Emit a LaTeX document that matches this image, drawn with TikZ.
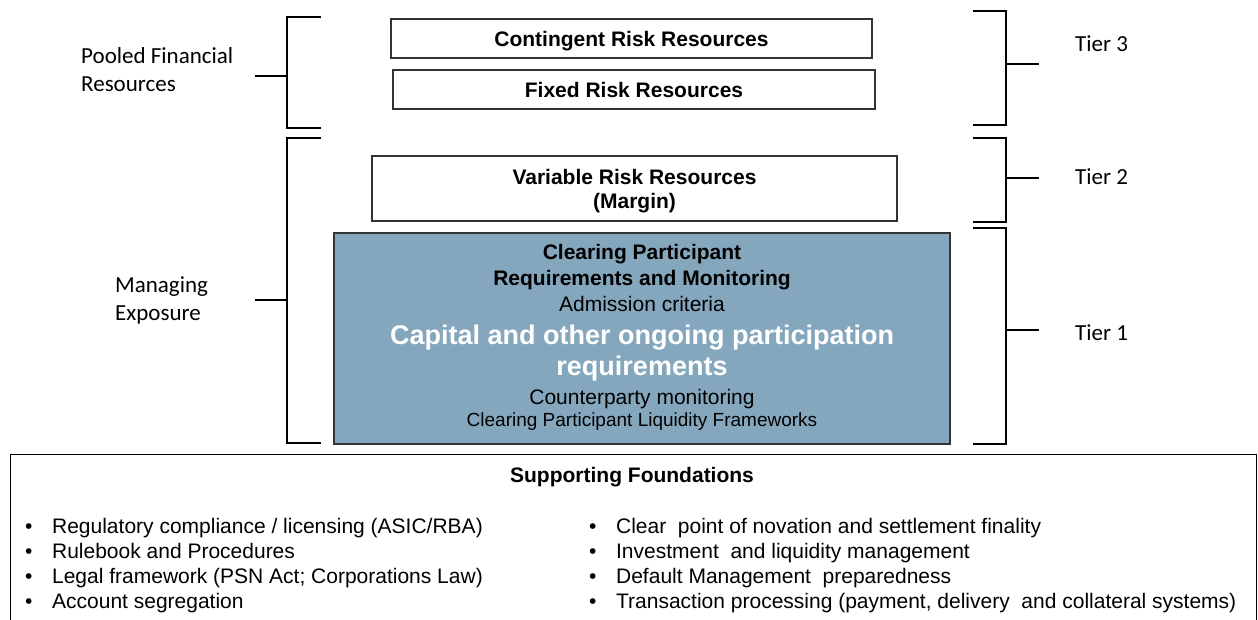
\documentclass[tikz,border=0pt]{standalone}
\usepackage{fontspec}
\setmainfont{Liberation Sans}
\newfontfamily\sidefont{Carlito}
\usetikzlibrary{positioning}
\definecolor{tierblue}{RGB}{132,167,189}

\begin{document}
\begin{tikzpicture}[
    x=1pt, y=-1pt,
    brace/.style={draw=black, line width=1.5pt},
    box/.style={draw=black!80, line width=1.3pt, align=center, inner sep=0pt},
    riskbox/.style={box, text depth=0pt, font=\bfseries\fontsize{21pt}{24pt}\selectfont},
    side/.style={font=\sidefont\fontsize{23pt}{28pt}\selectfont, align=left, inner sep=0pt},
    line/.style={anchor=base, inner sep=0pt},
    cpbold/.style={line, font=\bfseries\fontsize{21pt}{25pt}\selectfont},
    cptext/.style={line, font=\fontsize{21pt}{25pt}\selectfont},
    cpbig/.style={line, text=white, font=\bfseries\fontsize{27pt}{31pt}\selectfont},
    cpsmall/.style={line, font=\fontsize{19pt}{23pt}\selectfont},
    items/.style={anchor=base west, inner sep=0pt, font=\fontsize{21pt}{25pt}\selectfont}
]
\useasboundingbox (0,0) rectangle (1258,620);

% --- Tier 3: pooled resources ---
\node[riskbox, minimum width=481pt, minimum height=39pt] (cont) at (631.5,38.5) {Contingent Risk Resources};
\node[riskbox, minimum width=482pt, minimum height=39pt] (fixed) at (634,89.5) {Fixed Risk Resources};

% --- Tier 2: margin ---
\node[riskbox, minimum width=525pt, minimum height=65pt] (var) at (634.5,188.5) {Variable Risk Resources\\(Margin)};

% --- Tier 1: participant requirements ---
\node[box, fill=tierblue, minimum width=616pt, minimum height=211pt] (cp) at (642,338.5) {};
\node[cpbold] (cp1) at (642,260) {Clearing Participant};
\node[cpbold] (cp2) at (642,286) {Requirements and Monitoring};
\node[cptext] (cp3) at (642,312) {Admission criteria};
\node[cpbig] (cp4) at (642,344) {Capital and other ongoing participation};
\node[cpbig] (cp5) at (642,375) {requirements};
\node[cptext] (cp6) at (642,404) {Counterparty monitoring};
\node[cpsmall] (cp7) at (642,426) {Clearing Participant Liquidity Frameworks};

% --- Left brackets ---
\draw[brace] (321,17) -| (287,128) -- (321,128);
\draw[brace] (287,76) -- (255,76) coordinate (pooltip);
\draw[brace] (321,138) -| (287,443) -- (321,443);
\draw[brace] (287,300) -- (255,300) coordinate (mantip);

\node[side, anchor=west] (pool) at (81,69.5) {Pooled Financial\\Resources};
\node[side, anchor=west] (manage) at (115,300) {Managing\\Exposure};

% --- Right brackets ---
\draw[brace] (973,11) -| (1006,125) -- (973,125);
\draw[brace] (1006,64) -- (1039,64) coordinate (t3tip);
\draw[brace] (973,138) -| (1006,222) -- (973,222);
\draw[brace] (1006,178) -- (1039,178) coordinate (t2tip);
\draw[brace] (973,228) -| (1006,444) -- (973,444);
\draw[brace] (1006,330) -- (1039,330) coordinate (t1tip);

\node[side, anchor=base west] (tier3) at (1075,52) {Tier 3};
\node[side, anchor=base west] (tier2) at (1075,185) {Tier 2};
\node[side, anchor=base west] (tier1) at (1075,340) {Tier 1};

% --- Supporting foundations ---
\node[box, draw=black, anchor=north west, minimum width=1246pt, minimum height=200pt] (found) at (10,454) {};
\node[cpbold] (foundtitle) at (632,482) {Supporting Foundations};

\node[items] (listL) at (25,533) {%
    \begin{tabular}[t]{@{}l@{\hspace{19.6pt}}l@{}}
    • & Regulatory compliance / licensing (ASIC/RBA)\\
    • & Rulebook and Procedures\\
    • & Legal framework (PSN Act; Corporations Law)\\
    • & Account segregation
    \end{tabular}};
\node[items] (listR) at (589,533) {%
    \begin{tabular}[t]{@{}l@{\hspace{19.6pt}}l@{}}
    • & Clear~ point of novation and settlement finality\\
    • & Investment~ and liquidity management\\
    • & Default Management~ preparedness\\
    • & Transaction processing (payment, delivery~ and collateral systems)
    \end{tabular}};

\end{tikzpicture}
\end{document}
